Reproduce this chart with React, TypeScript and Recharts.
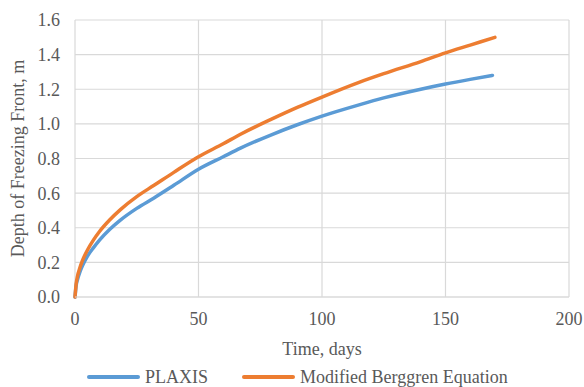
import { LineChart, Line, XAxis, YAxis, CartesianGrid, Legend, Label } from 'recharts';

const plaxisDays = [0, 0.5, 1, 2, 3, 5, 7.5, 10, 14, 18, 25, 32, 40, 50, 60, 67, 80, 90, 100, 115, 125, 140, 150, 160, 169];
const plaxisDepth = [0, 0.07, 0.1, 0.145, 0.18, 0.235, 0.285, 0.33, 0.39, 0.44, 0.512, 0.572, 0.645, 0.738, 0.81, 0.86, 0.94, 0.995, 1.045, 1.11, 1.15, 1.2, 1.23, 1.257, 1.28];

const berggrenDays = [0, 0.5, 1, 2, 3, 5, 7.5, 10, 14, 18.4, 25, 32, 40, 50, 60, 67, 80, 90, 100, 115, 125, 140, 150, 160, 170];
const berggrenDepth = [0, 0.08, 0.12, 0.17, 0.21, 0.27, 0.33, 0.38, 0.445, 0.505, 0.58, 0.645, 0.72, 0.81, 0.885, 0.94, 1.03, 1.095, 1.155, 1.24, 1.29, 1.36, 1.41, 1.455, 1.5];

const xTicks = [0, 50, 100, 150, 200];
const yTicks = [0, 0.2, 0.4, 0.6, 0.8, 1.0, 1.2, 1.4, 1.6];

const BLUE = '#5B9BD5';
const ORANGE = '#ED7D31';
const TEXT = '#595959';
const GRID = '#D9D9D9';
const FONT = 'Liberation Serif, serif';

const plaxis = plaxisDays.map((t, i) => ({ t, depth: plaxisDepth[i] }));
const berggren = berggrenDays.map((t, i) => ({ t, depth: berggrenDepth[i] }));

const legendItems = [
  { name: 'PLAXIS', color: BLUE },
  { name: 'Modified Berggren Equation', color: ORANGE },
];

function ChartLegend() {
  return (
    <div style={{ display: 'flex', alignItems: 'center', height: 20, paddingLeft: 87, gap: 34 }}>
      {legendItems.map((item) => (
        <div key={item.name} style={{ display: 'flex', alignItems: 'center', gap: 5 }}>
          <div style={{ width: 53, height: 4, borderRadius: 2, background: item.color }} />
          <span style={{ fontSize: 18, color: TEXT, fontFamily: FONT, lineHeight: '20px' }}>{item.name}</span>
        </div>
      ))}
    </div>
  );
}

export default function App() {
  const tickStyle = { fill: TEXT, fontSize: 18, fontFamily: FONT };
  return (
    <div style={{ position: 'absolute', left: 0, top: 0, width: 584, height: 387, background: '#fff' }}>
      <LineChart
        width={584}
        height={387}
        margin={{ top: 20, right: 15, bottom: 0, left: 0 }}
        style={{ fontFamily: FONT }}
      >
        <CartesianGrid stroke={GRID} strokeWidth={1.2} />
        <XAxis
          type="number"
          dataKey="t"
          domain={[0, 200]}
          ticks={xTicks}
          tick={tickStyle}
          tickLine={false}
          axisLine={{ stroke: GRID, strokeWidth: 1.2 }}
          tickMargin={9}
          height={70}
        >
          <Label value="Time, days" position="insideBottom" offset={12} fill={TEXT} fontSize={18} fontFamily={FONT} />
        </XAxis>
        <YAxis
          type="number"
          domain={[0, 1.6]}
          ticks={yTicks}
          tickFormatter={(v: number) => v.toFixed(1)}
          tick={tickStyle}
          tickLine={false}
          axisLine={false}
          tickMargin={9}
          width={75}
        >
          <Label
            value="Depth of Freezing Front, m"
            angle={-90}
            position="insideLeft"
            offset={18}
            fill={TEXT}
            fontSize={18}
            fontFamily={FONT}
            style={{ textAnchor: 'middle' }}
          />
        </YAxis>
        <Legend verticalAlign="bottom" align="left" content={() => <ChartLegend />} wrapperStyle={{ left: 0, width: 584 }} />
        <Line
          data={plaxis}
          dataKey="depth"
          name="PLAXIS"
          type="monotone"
          stroke={BLUE}
          strokeWidth={3.5}
          strokeLinecap="round"
          dot={false}
          isAnimationActive={false}
        />
        <Line
          data={berggren}
          dataKey="depth"
          name="Modified Berggren Equation"
          type="monotone"
          stroke={ORANGE}
          strokeWidth={3.5}
          strokeLinecap="round"
          dot={false}
          isAnimationActive={false}
        />
      </LineChart>
    </div>
  );
}
